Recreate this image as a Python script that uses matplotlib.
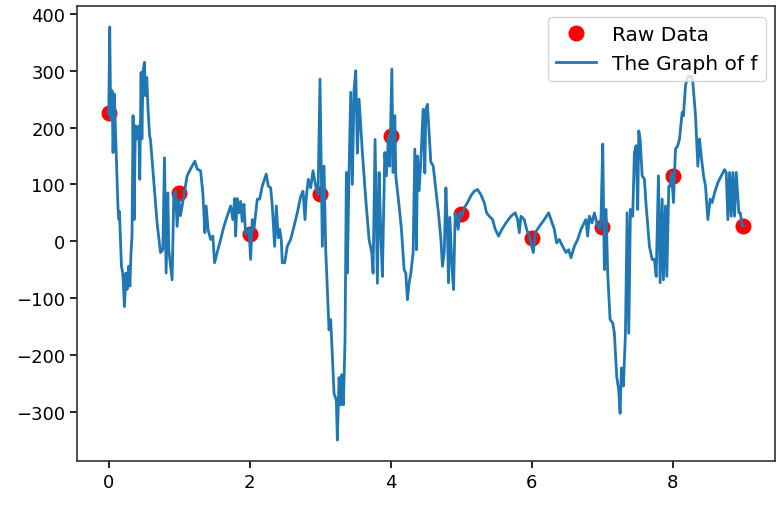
import numpy as np
import matplotlib
matplotlib.use("Agg")
import matplotlib.pyplot as plt

# sample points
x_raw = [0, 1, 2, 3, 4, 5, 6, 7, 8, 9]
y_raw = [225, 85, 12, 83, 185, 48, 5, 25, 115, 27]

# evaluated curve f(x)
x_f = [
    0.000, 0.014, 0.028, 0.047, 0.061, 0.081, 0.095, 0.118, 0.132, 0.146,
    0.152, 0.180, 0.199, 0.223, 0.245, 0.260, 0.284, 0.300, 0.316, 0.330,
    0.345, 0.360, 0.378, 0.400, 0.426, 0.440, 0.459, 0.470, 0.487, 0.507,
    0.520, 0.540, 0.557, 0.580, 0.592, 0.686, 0.734, 0.767, 0.791, 0.814,
    0.838, 0.852, 0.899, 0.923, 0.947, 0.970, 0.994, 1.018, 1.065, 1.112,
    1.160, 1.222, 1.254, 1.303, 1.335, 1.364, 1.382, 1.410, 1.445, 1.477,
    1.501, 1.538, 1.587, 1.634, 1.680, 1.729, 1.761, 1.786, 1.800, 1.822,
    1.847, 1.871, 1.893, 1.918, 1.942, 1.989, 2.013, 2.036, 2.060, 2.107,
    2.140, 2.178, 2.234, 2.263, 2.297, 2.320, 2.353, 2.377, 2.405, 2.425,
    2.448, 2.462, 2.496, 2.533, 2.580, 2.628, 2.675, 2.723, 2.756, 2.784,
    2.803, 2.831, 2.865, 2.898, 2.936, 2.969, 2.997, 3.030, 3.054, 3.078,
    3.125, 3.149, 3.196, 3.229, 3.243, 3.267, 3.291, 3.305, 3.329, 3.352,
    3.371, 3.385, 3.409, 3.433, 3.456, 3.480, 3.504, 3.527, 3.551, 3.598,
    3.646, 3.693, 3.731, 3.750, 3.778, 3.811, 3.835, 3.859, 3.882, 3.916,
    3.939, 3.968, 3.987, 4.016, 4.034, 4.058, 4.072, 4.119, 4.152, 4.190,
    4.214, 4.237, 4.261, 4.286, 4.318, 4.342, 4.365, 4.380, 4.403, 4.427,
    4.460, 4.484, 4.498, 4.521, 4.545, 4.569, 4.602, 4.640, 4.677, 4.712,
    4.734, 4.759, 4.783, 4.805, 4.820, 4.839, 4.868, 4.891, 4.915, 4.933,
    4.957, 4.982, 5.010, 5.043, 5.090, 5.137, 5.185, 5.232, 5.279, 5.327,
    5.360, 5.398, 5.445, 5.483, 5.530, 5.578, 5.634, 5.706, 5.767, 5.800,
    5.824, 5.848, 5.895, 5.928, 5.966, 6.023, 6.051, 6.108, 6.179, 6.240,
    6.274, 6.321, 6.354, 6.392, 6.439, 6.487, 6.524, 6.558, 6.605, 6.652,
    6.700, 6.747, 6.770, 6.794, 6.818, 6.856, 6.889, 6.913, 6.936, 6.970,
    6.984, 7.008, 7.031, 7.055, 7.078, 7.112, 7.150, 7.173, 7.206, 7.234,
    7.254, 7.273, 7.301, 7.330, 7.354, 7.377, 7.401, 7.433, 7.457, 7.481,
    7.504, 7.519, 7.538, 7.567, 7.599, 7.624, 7.670, 7.709, 7.741, 7.766,
    7.798, 7.822, 7.851, 7.869, 7.898, 7.917, 7.945, 7.964, 7.983, 8.011,
    8.040, 8.072, 8.097, 8.135, 8.153, 8.182, 8.215, 8.263, 8.286, 8.324,
    8.357, 8.381, 8.405, 8.438, 8.466, 8.499, 8.533, 8.561, 8.594, 8.641,
    8.689, 8.736, 8.760, 8.783, 8.807, 8.831, 8.854, 8.878, 8.902, 8.939,
    8.959, 8.987, 9.000,
]
y_f = [
    224, 377, 215, 265, 156, 259, 197, 109, 56, 38,
    52, -44, -56, -115, -56, -85, -44, -79, -20, 9,
    221, 38, 203, 180, 203, 109, 297, 180, 300, 315,
    256, 288, 232, 185, 179, 32, -20, -15, 147, -56,
    85, -15, -68, 82, 88, 26, 73, 45, 80, 115,
    127, 141, 127, 124, 85, 15, 62, 20, 3, 9,
    -38, -20, 3, 26, 44, 62, 38, 75, 9, 75,
    50, 70, 35, 65, 12, 21, -32, 38, 21, 74,
    74, 97, 118, 97, 94, 62, -9, 62, 6, 21,
    3, -38, -38, -9, 3, 26, 50, 79, 88, 38,
    79, 109, 94, 124, 97, 82, 285, -9, 132, -15,
    -156, -138, -268, -280, -350, -240, -288, -235, -288, -173,
    121, -56, 121, 262, 100, 267, 300, 155, 250, 156,
    74, 3, -20, -56, 179, -74, 121, 15, -62, 156,
    115, 185, 132, 303, 121, 221, 115, 62, 21, -50,
    -56, -103, -74, -56, -20, 162, -15, 150, 89, 141,
    232, 120, 232, 241, 191, 139, 133, 91, 50, 3,
    -44, -20, 94, 15, -73, 42, -44, -85, 50, 44,
    21, 50, 44, 59, 68, 80, 88, 91, 82, 68,
    50, 44, 38, 21, 9, 21, 32, 44, 50, 38,
    15, 44, 38, 21, 9, -20, 15, 26, 38, 50,
    38, 21, -3, 3, -9, -20, -15, -29, -9, 3,
    21, 33, 38, 9, 44, 32, 50, 38, 26, 21,
    44, 171, -50, 56, -56, -138, -144, -162, -238, -262,
    -303, -223, -255, -162, 50, -162, 56, 44, 156, 168,
    56, 194, 180, 115, 109, 62, -9, -32, -32, -62,
    115, -73, 74, -68, 62, -62, 97, 97, 121, 68,
    162, 168, 180, 227, 221, 274, 290, 290, 280, 221,
    132, 180, 150, 115, 97, 38, 74, 68, 85, 103,
    115, 126, 121, 38, 121, 44, 121, 44, 121, 50,
    50, 26, 27,
]

fig = plt.figure(figsize=(7.78, 5.06), dpi=100)
ax = fig.add_axes([0.099, 0.0875, 0.897, 0.898])

ax.plot(x_raw, y_raw, "o", color="red", markersize=10.5, label="Raw Data")
ax.plot(x_f, y_f, color="#1f77b4", lw=2.0, label="The Graph of f")

for sp in ax.spines.values():
    sp.set_linewidth(1.2)
    sp.set_color("#333333")
ax.tick_params(labelsize=13, length=5, width=1.2)
ax.set_yticks([-300, -200, -100, 0, 100, 200, 300, 400])

# legend box nudged a little lower than the default corner
ax.legend(loc="upper right", fontsize=14.5,
          bbox_to_anchor=(0.993, 0.985), borderaxespad=0.2)
plt.savefig("out.png", dpi=100)
plt.close()
